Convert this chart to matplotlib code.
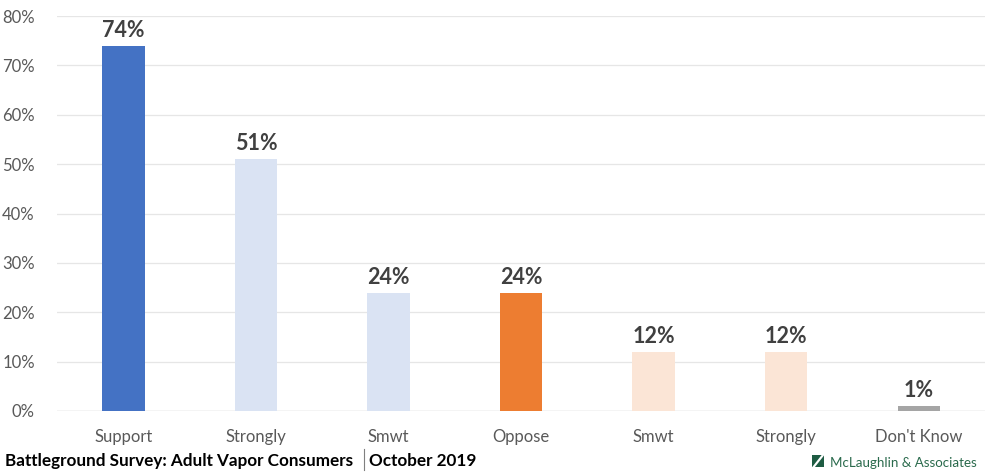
import numpy as np
import matplotlib.pyplot as plt
from matplotlib.patches import Rectangle, Polygon

plt.rcParams['font.family'] = ['Lato', 'DejaVu Sans']

categories = ['Support', 'Strongly', 'Smwt', 'Oppose', 'Smwt', 'Strongly', "Don't Know"]
values = [74, 51, 24, 24, 12, 12, 1]
bar_colors = ['#4472C4', '#DAE3F3', '#DAE3F3', '#ED7D31', '#FBE5D6', '#FBE5D6', '#A5A5A5']
yticks = [0, 10, 20, 30, 40, 50, 60, 70, 80]

fig = plt.figure(figsize=(9.95, 4.74), dpi=100)
ax = fig.add_axes([0.0573, 0.133, 0.9327, 0.833])

x = np.arange(len(categories))
ax.bar(x, values, width=0.32, color=bar_colors, zorder=3)
for xi, v in zip(x, values):
    ax.text(xi, v + 1.0, f'{v}%', ha='center', va='bottom', fontsize=15.5,
            fontweight='bold', color='#404040')

ax.set_xlim(-0.5, len(categories) - 0.5)
ax.set_ylim(0, 80)
ax.set_yticks(yticks)
ax.set_yticklabels([f'{t}%' for t in yticks])
ax.set_xticks(x)
ax.set_xticklabels(categories)
ax.tick_params(axis='both', length=0, labelsize=12, colors='#595959')
ax.tick_params(axis='x', pad=13)
ax.tick_params(axis='y', pad=16)
ax.grid(axis='y', color='#E6E6E6', linewidth=0.9, zorder=0)
for s in ax.spines.values():
    s.set_visible(False)
ax.axhline(0, color='#D9D9D9', linewidth=1, zorder=2)

# footer
fig.text(0.005, 0.01, 'Battleground Survey: Adult Vapor Consumers', fontsize=12.3,
         fontweight='bold', color='#000000', va='bottom')
fig.add_artist(plt.Line2D([0.3655, 0.3655], [0.008, 0.052], color='#7F7F7F',
                          linewidth=0.8, transform=fig.transFigure))
fig.text(0.3705, 0.01, 'October 2019', fontsize=12.3, fontweight='bold',
         color='#000000', va='bottom')

# logo
lx, ly, lw, lh = 0.816, 0.014, 0.0125, 0.026
fig.add_artist(Rectangle((lx, ly), lw, lh, transform=fig.transFigure,
                         facecolor='#1E5C43', edgecolor='none'))
fig.add_artist(Polygon([(lx + lw * 0.78, ly + lh), (lx + lw, ly + lh),
                        (lx + lw * 0.22, ly), (lx, ly)], closed=True,
                       transform=fig.transFigure, facecolor='white', edgecolor='none'))
fig.text(0.834, 0.01, 'McLaughlin & Associates', fontsize=9.6, color='#2A6A4C',
         va='bottom')

fig.savefig('out.png', dpi=100)
